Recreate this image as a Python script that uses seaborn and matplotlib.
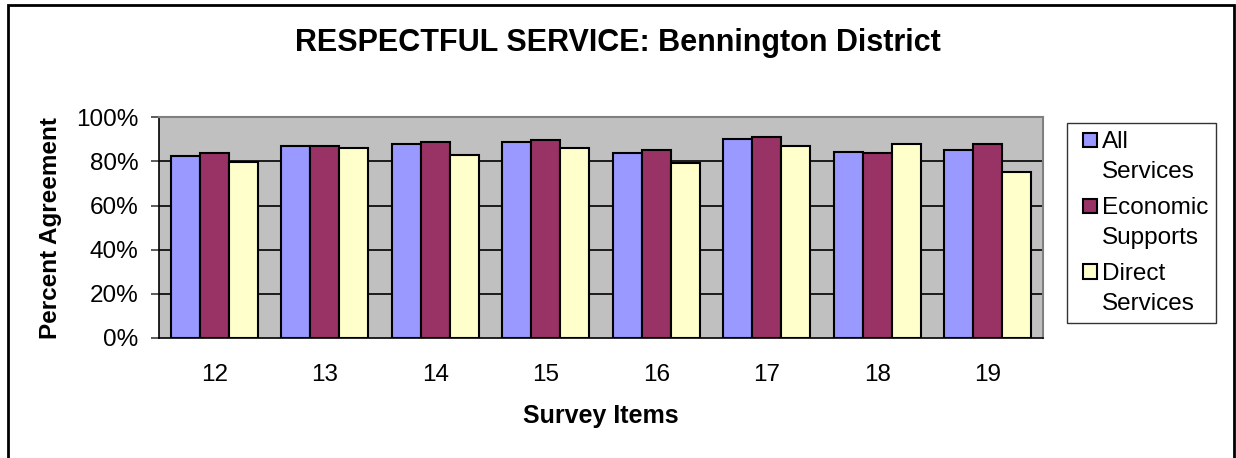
import pandas as pd
import matplotlib
matplotlib.use("Agg")
import matplotlib.pyplot as plt
import matplotlib.ticker as mticker
from matplotlib.patches import Rectangle
from matplotlib.legend_handler import HandlerPatch
import seaborn as sns

# valeurs
items = ["12", "13", "14", "15", "16", "17", "18", "19"]
all_services = [0.826, 0.871, 0.879, 0.887, 0.837, 0.903, 0.844, 0.852]
economic_supports = [0.837, 0.871, 0.887, 0.896, 0.852, 0.912, 0.837, 0.879]
direct_services = [0.796, 0.862, 0.828, 0.862, 0.795, 0.870, 0.879, 0.751]
series = ["All\nServices", "Economic\nSupports", "Direct\nServices"]
colors = ["#9999FF", "#993366", "#FFFFCC"]

rows = []
for name, vals in zip(series, [all_services, economic_supports, direct_services]):
    for it, v in zip(items, vals):
        rows.append({"item": it, "serie": name, "value": v})
df = pd.DataFrame(rows)

sns.set_style("white")
plt.rcParams["font.family"] = ["Liberation Sans", "DejaVu Sans"]
plt.rcParams["text.color"] = "black"
plt.rcParams["axes.labelcolor"] = "black"
plt.rcParams["xtick.color"] = "black"
plt.rcParams["ytick.color"] = "black"


class TopSquare(HandlerPatch):
    """Carré de légende aligné sur la première ligne du libellé."""
    def __init__(self, shift, **kw):
        super().__init__(**kw)
        self.shift = shift

    def create_artists(self, legend, orig_handle, xdescent, ydescent,
                       width, height, fontsize, trans):
        size = 0.6 * fontsize
        p = Rectangle((width - size - xdescent, -ydescent + self.shift), size, size)
        self.update_prop(p, orig_handle, legend)
        p.set_transform(trans)
        return [p]


fig = plt.figure(figsize=(12.36, 4.58), dpi=100)
ax = fig.add_axes([159 / 1236, 1 - 338 / 458, (1043 - 159) / 1236, (338 - 117.3) / 458])
ax.set_facecolor("#C0C0C0")

sns.barplot(data=df, x="item", y="value", hue="serie", order=items, hue_order=series,
            palette=colors, width=0.786, edgecolor="black", linewidth=1.5,
            saturation=1, ax=ax, zorder=3)

ax.set_ylim(0, 1)
ax.set_xlim(-0.5, len(items) - 0.5)
ax.yaxis.set_major_locator(mticker.MultipleLocator(0.2))
ax.yaxis.set_major_formatter(mticker.PercentFormatter(1.0, decimals=0))
for y in [0.2, 0.4, 0.6, 0.8]:
    ax.axhline(y, color="black", linewidth=1.2, zorder=1)

ax.set_xticks(range(len(items)))
ax.set_xticklabels(items)
ax.set_xticks([i - 0.5 for i in range(len(items) + 1)], minor=True)
ax.tick_params(axis="x", which="major", length=0, pad=19, labelsize=17.5)
ax.tick_params(axis="x", which="minor", length=6, width=1.2, color="#404040")
ax.tick_params(axis="y", length=6, width=1.2, left=True, labelsize=17.5, pad=9, color="#404040")

for side in ["top", "right"]:
    ax.spines[side].set_color("#808080")
    ax.spines[side].set_linewidth(1.5)
for side in ["left", "bottom"]:
    ax.spines[side].set_color("black")
    ax.spines[side].set_linewidth(1.2)

ax.set_xlabel("Survey Items", fontsize=18, fontweight="bold", labelpad=13)
ax.set_ylabel("Percent Agreement", fontsize=17.5, fontweight="bold", labelpad=10)

fig.text(0.5, 1 - 43 / 458, "RESPECTFUL SERVICE: Bennington District",
         ha="center", va="center", fontsize=22, fontweight="bold")

handles, labels = ax.get_legend_handles_labels()
ax.get_legend().remove()
leg = fig.legend(handles, labels, loc="upper left",
                 bbox_to_anchor=(1067 / 1236, 1 - 123 / 458), borderaxespad=0,
                 fontsize=17.5, frameon=True, fancybox=False, edgecolor="black",
                 handlelength=0.92, handleheight=0.6, handletextpad=0.2,
                 labelspacing=0.55, borderpad=0.32,
                 handler_map={h: TopSquare(shift=12.5) for h in handles})
leg.get_frame().set_linewidth(1.0)
for t in leg.get_texts():
    t.set_linespacing(1.5)

# cadre autour de la figure
fig.patches.append(Rectangle((8 / 1236, -0.01), (1234 - 8) / 1236, 1 - 4.5 / 458 + 0.01,
                             transform=fig.transFigure, fill=False,
                             edgecolor="black", linewidth=2))

fig.savefig("out.png", dpi=100)
